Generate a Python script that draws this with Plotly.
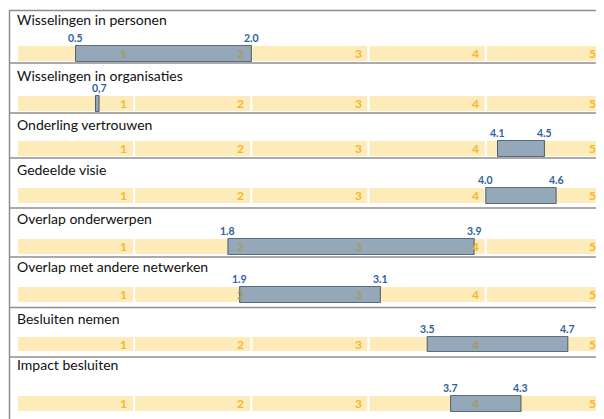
import plotly.graph_objects as go

# ---- data ----
titles = [
    "Wisselingen in personen",
    "Wisselingen in organisaties",
    "Onderling vertrouwen",
    "Gedeelde visie",
    "Overlap onderwerpen",
    "Overlap met andere netwerken",
    "Besluiten nemen",
    "Impact besluiten",
]
low = [0.5, 0.67, 4.1, 4.0, 1.8, 1.9, 3.5, 3.7]
high = [2.0, 0.70, 4.5, 4.6, 3.9, 3.1, 4.7, 4.3]
low_labels = ["0.5", "", "4.1", "4.0", "1.8", "1.9", "3.5", "3.7"]
high_labels = ["2.0", "0,7", "4.5", "4.6", "3.9", "3.1", "4.7", "4.3"]
scale = [1, 2, 3, 4, 5]

# ---- layout (pixels in the 604x419 window; page body has an 8px margin) ----
OFF = 8
W, H = 604 - OFF, 419 - OFF
band_px = [(45, 62), (95, 112), (140, 157), (187, 204),
           (238, 255), (286, 303), (336, 352), (395, 412)]
title_px = [20, 75, 124, 169, 218, 266, 318, 364]
sep_px = [10.5, 63, 113, 158, 208, 257, 307.5, 357]
x0_px, x5_px = 17, 603


def px(v):
    return v - OFF


BAND = "#FDEBB9"
NUM = "#F8B52B"
NUM_IN = "#A39A5E"
BAR = "#95A8BA"
BAR_LINE = "#4B5B6B"
LABEL = "#2F5F9F"
SEP = "#8E8E8E"
FONT = "Lato"

fig = go.Figure()
layout = dict(
    width=W, height=H, margin=dict(l=0, r=0, t=0, b=0),
    paper_bgcolor="white", plot_bgcolor="white", showlegend=False,
)
annotations = []
shapes = []

for i, t in enumerate(titles):
    n = i + 1
    xs = "" if n == 1 else str(n)
    xa, ya = "x" + xs, "y" + xs
    top, bot = band_px[i]
    layout["xaxis" + xs] = dict(domain=[px(x0_px) / W, px(x5_px) / W], range=[0, 5],
                                visible=False, fixedrange=True, anchor=ya)
    layout["yaxis" + xs] = dict(domain=[1 - px(bot) / H, 1 - px(top) / H], range=[0, 1],
                                visible=False, fixedrange=True, anchor=xa)
    # band cells
    fig.add_trace(go.Bar(
        x=[1] * len(scale), base=[s - 1 for s in scale], y=[0.5] * len(scale),
        orientation="h", width=1.0, xaxis=xa, yaxis=ya,
        marker=dict(color=BAND, line=dict(color="white", width=2)),
        hoverinfo="skip",
    ))
    # range bar
    lo, hi = low[i], high[i]
    fig.add_trace(go.Scatter(
        x=[lo, hi, hi, lo, lo], y=[0.02, 0.02, 0.98, 0.98, 0.02],
        mode="lines", fill="toself", fillcolor=BAR,
        line=dict(color=BAR_LINE, width=1), xaxis=xa, yaxis=ya, hoverinfo="skip",
    ))
    # scale numbers (right-aligned inside each cell)
    for s in scale:
        inside = lo <= s - 0.09 <= hi
        annotations.append(dict(
            x=s, y=0.5, xref=xa, yref=ya, text="<b>%d</b>" % s, showarrow=False,
            xanchor="right", yanchor="middle", xshift=-5,
            font=dict(family=FONT, size=12, color=NUM_IN if inside else NUM),
        ))
    # value labels
    for v, lab in ((lo, low_labels[i]), (hi, high_labels[i])):
        if lab:
            annotations.append(dict(
                x=v, y=1, xref=xa, yref=ya, text="<b>" + lab + "</b>",
                showarrow=False, xanchor="center", yanchor="bottom", yshift=-1,
                font=dict(family=FONT, size=10.5, color=LABEL),
            ))
    # title
    annotations.append(dict(
        x=px(15) / W, y=1 - px(title_px[i]) / H, xref="paper", yref="paper",
        text=t, showarrow=False, xanchor="left", yanchor="middle",
        font=dict(family=FONT, size=14, color="#111111"),
    ))

for s in sep_px:
    shapes.append(dict(type="line", xref="paper", yref="paper",
                       x0=px(9) / W, x1=1, y0=1 - px(s) / H, y1=1 - px(s) / H,
                       line=dict(color=SEP, width=1.5)))
shapes.append(dict(type="line", xref="paper", yref="paper",
                   x0=px(9.5) / W, x1=px(9.5) / W, y0=1 - px(10) / H, y1=0,
                   line=dict(color=SEP, width=1.5)))

layout["annotations"] = annotations
layout["shapes"] = shapes
fig.update_layout(**layout)
fig.write_html("out.html")
